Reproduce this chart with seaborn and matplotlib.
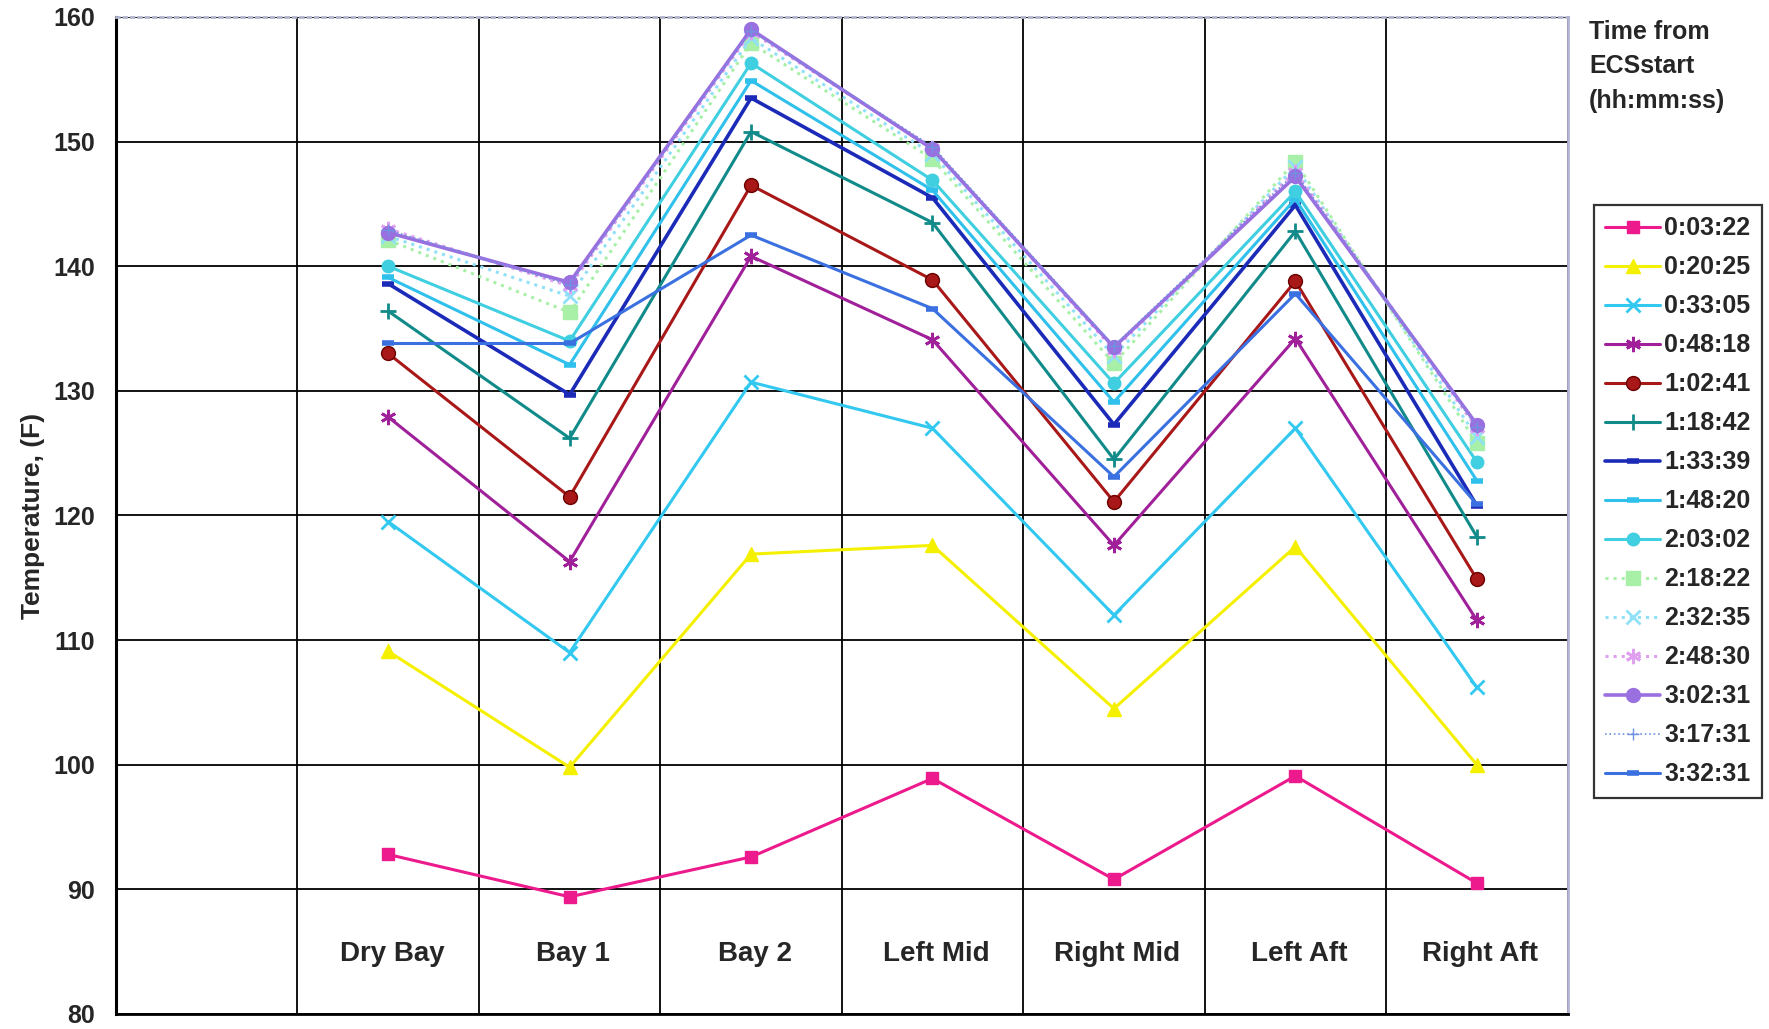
#!/usr/bin/env python3

import numpy as np
import matplotlib
matplotlib.use("Agg")
import matplotlib.pyplot as plt
import seaborn as sns

# Locations along the aircraft (first column of the chart is empty)
categories = ["Dry Bay", "Bay 1", "Bay 2", "Left Mid", "Right Mid", "Left Aft", "Right Aft"]

# Time from ECS start for each curve
times = ["0:03:22", "0:20:25", "0:33:05", "0:48:18", "1:02:41", "1:18:42", "1:33:39",
         "1:48:20", "2:03:02", "2:18:22", "2:32:35", "2:48:30", "3:02:31", "3:17:31", "3:32:31"]

# Temperatures (F)
t_0_03_22 = [92.8, 89.4, 92.6, 98.9, 90.8, 99.1, 90.5]
t_0_20_25 = [109.1, 99.8, 116.9, 117.6, 104.5, 117.5, 100.0]
t_0_33_05 = [119.5, 109.0, 130.7, 127.0, 112.0, 127.0, 106.2]
t_0_48_18 = [127.9, 116.3, 140.8, 134.1, 117.6, 134.2, 111.6]
t_1_02_41 = [133.0, 121.5, 146.5, 138.9, 121.1, 138.8, 114.9]
t_1_18_42 = [136.4, 126.2, 150.8, 143.5, 124.5, 142.8, 118.3]
t_1_33_39 = [138.6, 129.7, 153.5, 145.5, 127.3, 144.9, 120.8]
t_1_48_20 = [139.1, 132.1, 154.9, 146.1, 129.1, 145.4, 122.8]
t_2_03_02 = [140.0, 134.0, 156.3, 146.9, 130.6, 146.0, 124.3]
t_2_18_22 = [142.1, 136.3, 157.9, 148.6, 132.2, 148.4, 125.8]
t_2_32_35 = [142.4, 137.6, 158.3, 149.0, 132.8, 148.0, 126.3]
t_2_48_30 = [143.0, 138.4, 158.8, 149.5, 133.3, 147.6, 127.0]
t_3_02_31 = [142.7, 138.7, 159.0, 149.4, 133.5, 147.2, 127.3]
t_3_17_31 = [142.9, 138.5, 158.9, 149.6, 133.6, 147.5, 127.1]
t_3_32_31 = [133.8, 133.8, 142.5, 136.6, 123.1, 137.8, 120.9]

series = [t_0_03_22, t_0_20_25, t_0_33_05, t_0_48_18, t_1_02_41, t_1_18_42, t_1_33_39,
          t_1_48_20, t_2_03_02, t_2_18_22, t_2_32_35, t_2_48_30, t_3_02_31, t_3_17_31, t_3_32_31]

# Excel-ish styles per curve
styles = [
    dict(color="#ec1a8c", marker="s", ms=9, ls="-", lw=2.2),
    dict(color="#f5f000", marker="^", ms=10, ls="-", lw=2.2),
    dict(color="#33c8f0", marker="x", ms=10, ls="-", lw=2.2, mew=2),
    dict(color="#a0209a", marker=(6, 2, 0), ms=11, ls="-", lw=2.2, mew=2),
    dict(color="#a81818", marker="o", ms=10, ls="-", lw=2.2, mec="#6a0000"),
    dict(color="#118a8a", marker="+", ms=11, ls="-", lw=2.2, mew=2),
    dict(color="#1c2ab8", marker="_", ms=9, ls="-", lw=2.6, mew=4),
    dict(color="#2fc0ec", marker="_", ms=9, ls="-", lw=2.2, mew=4),
    dict(color="#3fcfe0", marker="o", ms=9, ls="-", lw=2.2),
    dict(color="#a8f0a8", marker="s", ms=10, ls=":", lw=2.2),
    dict(color="#90e0f8", marker="x", ms=10, ls=":", lw=2.2, mew=2),
    dict(color="#e0a0f0", marker=(6, 2, 0), ms=11, ls=":", lw=2.2, mew=2),
    dict(color="#9a70e0", marker="o", ms=10, ls="-", lw=2.6),
    dict(color="#7090e0", marker="+", ms=8, ls=":", lw=1.2),
    dict(color="#3a70e0", marker="_", ms=9, ls="-", lw=2.2, mew=4),
]

sns.set_style("white")
plt.rcParams['font.family'] = ['Liberation Sans', 'DejaVu Sans']
narrow = ['Liberation Sans Narrow', 'DejaVu Sans Condensed', 'Liberation Sans', 'DejaVu Sans']

fig = plt.figure(figsize=(17.69, 10.29), dpi=100)
ax = fig.add_axes([0.0656, 0.0146, 0.8205, 0.9689])

xpos = np.arange(1, len(categories) + 1)
for name, vals, st in zip(times, series, styles):
    sns.lineplot(x=xpos, y=vals, ax=ax, label=name, color=st["color"], marker=st["marker"],
                 markersize=st["ms"], linestyle=st["ls"], linewidth=st["lw"],
                 markeredgewidth=st.get("mew", 1), markeredgecolor=st.get("mec", st["color"]),
                 markerfacecolor=st["color"], estimator=None, sort=False)

ax.set_xlim(-0.5, 7.5)
ax.set_ylim(80, 160)
ax.set_yticks(np.arange(80, 161, 10))
ax.set_xticks(np.arange(-0.5, 7.6, 1))
ax.set_xticklabels([])
ax.grid(True, color="black", linewidth=1.3)
ax.tick_params(axis="y", direction="out", length=7, width=1.3, color="black",
               labelsize=18, pad=8)
ax.tick_params(axis="x", direction="out", length=7, width=1.3, color="black")
for lab in ax.get_yticklabels():
    lab.set_fontweight("bold")

ax.set_ylabel("Temperature, (F)", fontsize=19, fontweight="bold", family=narrow, labelpad=6)

# category names sit inside the plot area, below the lowest curve
for x, c in zip(xpos, categories):
    ax.text(x + 0.02, 84.8, c, ha="center", va="center", fontsize=20, fontweight="bold", family=narrow)

ax.spines["left"].set_color("black")
ax.spines["left"].set_linewidth(2.2)
ax.spines["bottom"].set_color("black")
ax.spines["bottom"].set_linewidth(2.0)
ax.spines["top"].set_color("#b0b4cc")
ax.spines["top"].set_linestyle(":")
ax.spines["top"].set_linewidth(2.0)
ax.spines["right"].set_color("#b4b4d4")
ax.spines["right"].set_linewidth(2.0)

handles, labels = ax.get_legend_handles_labels()
ax.legend_.remove()
leg = fig.legend(handles, labels, loc="upper left", bbox_to_anchor=(1594 / 1769, 1 - 205 / 1029),
                 prop=dict(size=18, weight="bold"), frameon=True, fancybox=False,
                 edgecolor="black", handlelength=2.2, handletextpad=0.15, labelspacing=0.6,
                 borderpad=0.45, borderaxespad=0)
leg.get_frame().set_linewidth(1.6)

fig.text(1589 / 1769, 1 - 20 / 1029, "Time from\nECSstart\n(hh:mm:ss)", ha="left", va="top",
         fontsize=18, fontweight="bold", linespacing=1.55)

fig.savefig("out.png", dpi=100, facecolor="white")
